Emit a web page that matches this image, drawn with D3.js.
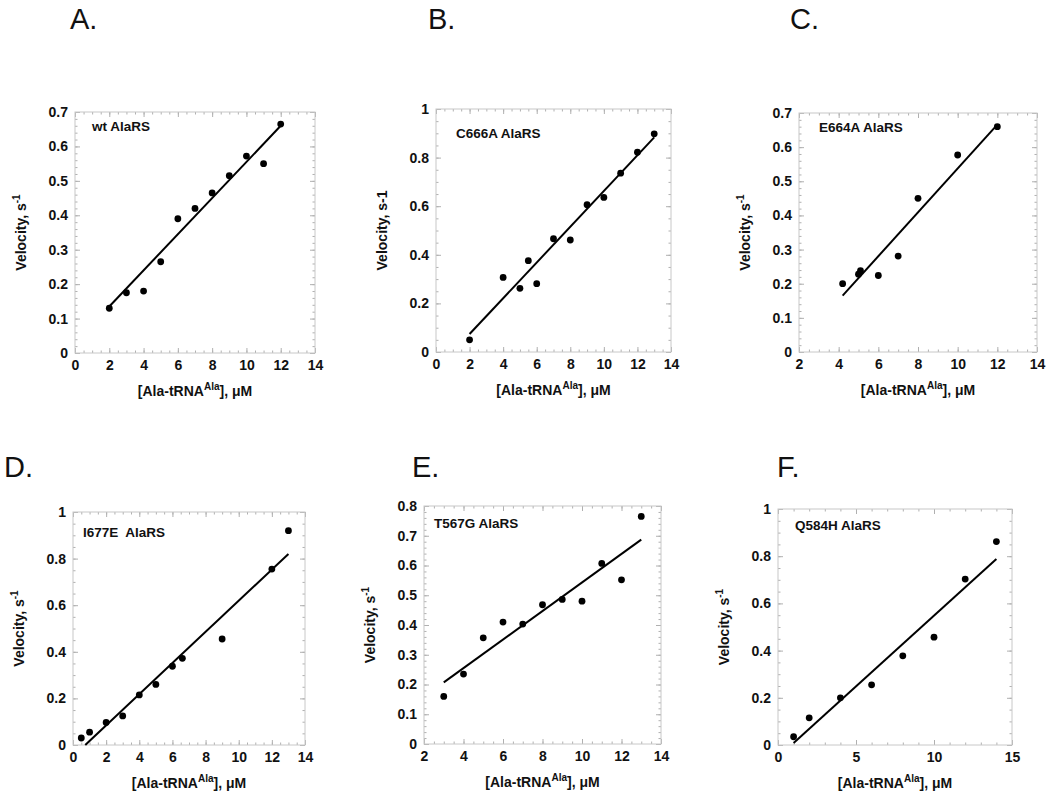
<!DOCTYPE html>
<html>
<head>
<meta charset="utf-8">
<script src="https://cdn.jsdelivr.net/npm/d3@7"></script>
<style>
  body { margin: 0; background: #fff; }
  svg { font-family: "Liberation Sans", Arial, Helvetica, sans-serif; }
  .frame { fill: none; stroke: #c8c8c8; stroke-width: 1; }
  .tick line { stroke: #b0b0b0; }
  .domain { display: none; }
  .lab text { font-weight: bold; font-size: 14px; fill: #111; }
  .name { white-space: pre; }
</style>
</head>
<body>
<div id="chart"></div>
<script>
"use strict";

// panel letters
var letters = ["A.", "B.", "C.", "D.", "E.", "F."];
var names = ["wt AlaRS", "C666A AlaRS", "E664A AlaRS", "I677E  AlaRS", "T567G AlaRS", "Q584H AlaRS"];

// data
var xA = [2, 3, 4, 5, 6, 7, 8, 9, 10, 11, 12];
var yA = [0.13, 0.175, 0.18, 0.265, 0.39, 0.42, 0.465, 0.515, 0.572, 0.55, 0.665];
var fitA = [[2, 0.135], [12, 0.66]];

var xB = [2, 4, 5, 5.5, 6, 7, 8, 9, 10, 11, 12, 13];
var yB = [0.05, 0.307, 0.262, 0.376, 0.281, 0.466, 0.461, 0.606, 0.636, 0.736, 0.822, 0.898];
var fitB = [[2, 0.074], [13, 0.883]];

var xC = [4.2, 5, 5.1, 6, 7, 8, 10, 12];
var yC = [0.2, 0.228, 0.238, 0.224, 0.281, 0.45, 0.577, 0.66];
var fitC = [[4.2, 0.165], [12, 0.666]];

var xD = [0.5, 1, 2, 3, 4, 5, 6, 6.6, 9, 12, 13];
var yD = [0.03, 0.055, 0.097, 0.125, 0.215, 0.26, 0.338, 0.372, 0.455, 0.755, 0.92];
var fitD = [[0.74, 0], [13, 0.82]];

var xE = [3, 4, 5, 6, 7, 8, 9, 10, 11, 12, 13];
var yE = [0.16, 0.235, 0.357, 0.41, 0.403, 0.468, 0.486, 0.48, 0.607, 0.552, 0.765];
var fitE = [[3, 0.207], [13, 0.687]];

var xF = [1, 2, 4, 6, 8, 10, 12, 14];
var yF = [0.035, 0.115, 0.2, 0.255, 0.378, 0.457, 0.703, 0.862];
var fitF = [[1, 0.008], [14, 0.788]];

// axis ranges / ticks
var xDomains = [[0, 14], [0, 14], [2, 14], [0, 14], [2, 14], [0, 15]];
var yDomains = [[0, 0.7], [0, 1], [0, 0.7], [0, 1], [0, 0.8], [0, 1]];
var xSteps = [2, 2, 2, 2, 2, 5];
var xMinor = [0.5, 0.5, 0.5, 0.5, 0.5, 1];
var ySteps = [0.1, 0.2, 0.1, 0.2, 0.1, 0.2];
var yMinor = [0.02, 0.05, 0.02, 0.05, 0.02, 0.05];
var supUnit = [true, false, true, true, true, true];

var xs = [xA, xB, xC, xD, xE, xF];
var ys = [yA, yB, yC, yD, yE, yF];
var fits = [fitA, fitB, fitC, fitD, fitE, fitF];

// layout (pixel boxes of each plot frame)
var boxes = [
  {l: 75, r: 315, t: 112, b: 353, lx: 70, ly: 29, nx: 17, ny: 14},
  {l: 436, r: 671, t: 109, b: 352, lx: 428, ly: 29, nx: 20, ny: 24},
  {l: 799, r: 1037, t: 113, b: 352, lx: 790, ly: 29, nx: 20, ny: 14},
  {l: 73, r: 305, t: 512, b: 745, lx: 4, ly: 477, nx: 10, ny: 20},
  {l: 424, r: 661, t: 506, b: 744, lx: 412, ly: 477, nx: 10, ny: 17},
  {l: 778, r: 1012, t: 509, b: 745, lx: 777, ly: 477, nx: 17, ny: 16}
];

var svg = d3.select("#chart").append("svg").attr("width", 1050).attr("height", 794);

function range(a, b, s) {
  var out = [], n = Math.round((b - a) / s);
  for (var i = 0; i < n + 1; i++) out.push(+(a + i * s).toFixed(4));
  return out;
}

function fmt(v) { return String(v); }

var drawPanel = function drawPanel(i) {
  var bx = boxes[i];
  var x = d3.scaleLinear().domain(xDomains[i]).range([bx.l, bx.r]);
  var y = d3.scaleLinear().domain(yDomains[i]).range([bx.b, bx.t]);
  var g = svg.append("g");

  svg.append("text").attr("x", bx.lx).attr("y", bx.ly)
    .attr("font-size", 29).attr("fill", "#111").text(letters[i]);

  var xMaj = range(xDomains[i][0], xDomains[i][1], xSteps[i]);
  var yMaj = range(yDomains[i][0], yDomains[i][1], ySteps[i]);
  var xMin = range(xDomains[i][0], xDomains[i][1], xMinor[i]);
  var yMin = range(yDomains[i][0], yDomains[i][1], yMinor[i]);

  // minor ticks all sides
  g.append("g").attr("transform", "translate(0," + bx.b + ")")
    .call(d3.axisBottom(x).tickValues(xMin).tickSize(-2.5).tickFormat(""));
  g.append("g").attr("transform", "translate(0," + bx.t + ")")
    .call(d3.axisTop(x).tickValues(xMin).tickSize(-2.5).tickFormat(""));
  g.append("g").attr("transform", "translate(" + bx.l + ",0)")
    .call(d3.axisLeft(y).tickValues(yMin).tickSize(-2.5).tickFormat(""));
  g.append("g").attr("transform", "translate(" + bx.r + ",0)")
    .call(d3.axisRight(y).tickValues(yMin).tickSize(-2.5).tickFormat(""));

  // major ticks + labels
  g.append("g").attr("class", "lab").attr("transform", "translate(0," + bx.b + ")")
    .call(d3.axisBottom(x).tickValues(xMaj).tickSizeInner(-5).tickSizeOuter(0).tickPadding(7).tickFormat(d3.format("d")));
  g.append("g").attr("transform", "translate(0," + bx.t + ")")
    .call(d3.axisTop(x).tickValues(xMaj).tickSize(-5).tickFormat(""));
  g.append("g").attr("class", "lab").attr("transform", "translate(" + bx.l + ",0)")
    .call(d3.axisLeft(y).tickValues(yMaj).tickSizeInner(-5).tickSizeOuter(0).tickPadding(7).tickFormat(fmt));
  g.append("g").attr("transform", "translate(" + bx.r + ",0)")
    .call(d3.axisRight(y).tickValues(yMaj).tickSize(-5).tickFormat(""));

  g.append("rect").attr("class", "frame")
    .attr("x", bx.l).attr("y", bx.t).attr("width", bx.r - bx.l).attr("height", bx.b - bx.t);

  // fit line
  g.append("path").datum(fits[i])
    .attr("d", d3.line().x(function (d) { return x(d[0]); }).y(function (d) { return y(d[1]); }))
    .attr("stroke", "#000").attr("stroke-width", 2).attr("fill", "none");

  // points
  g.selectAll("circle.pt").data(d3.zip(xs[i], ys[i])).enter().append("circle")
    .attr("class", "pt").attr("cx", function (d) { return x(d[0]); }).attr("cy", function (d) { return y(d[1]); })
    .attr("r", 3.4).attr("fill", "#000");

  // name
  g.append("text").attr("class", "name").attr("x", bx.l + bx.nx).attr("y", bx.t + bx.ny + 5)
    .attr("font-size", 13.5).attr("font-weight", "bold").attr("fill", "#111").text(names[i]);

  // x title
  var xt = g.append("text").attr("x", (bx.l + bx.r) / 2).attr("y", bx.b + 43)
    .attr("text-anchor", "middle").attr("font-size", 14).attr("font-weight", "bold").attr("fill", "#111");
  xt.append("tspan").text("[Ala-tRNA");
  xt.append("tspan").attr("dy", -6).attr("font-size", 10).text("Ala");
  xt.append("tspan").attr("dy", 6).text("], \u03bcM");

  // y title
  var cy = (bx.t + bx.b) / 2, cx = bx.l - 49;
  var yt = g.append("text").attr("transform", "translate(" + cx + "," + cy + ") rotate(-90)")
    .attr("text-anchor", "middle").attr("font-size", 14).attr("font-weight", "bold").attr("fill", "#111");
  if (supUnit[i]) {
    yt.append("tspan").text("Velocity, s");
    yt.append("tspan").attr("dy", -6).attr("font-size", 10).text("-1");
  } else {
    yt.text("Velocity, s-1");
  }
};

for (var i = 0; i < 6; i++) drawPanel(i);
</script>
</body>
</html>
